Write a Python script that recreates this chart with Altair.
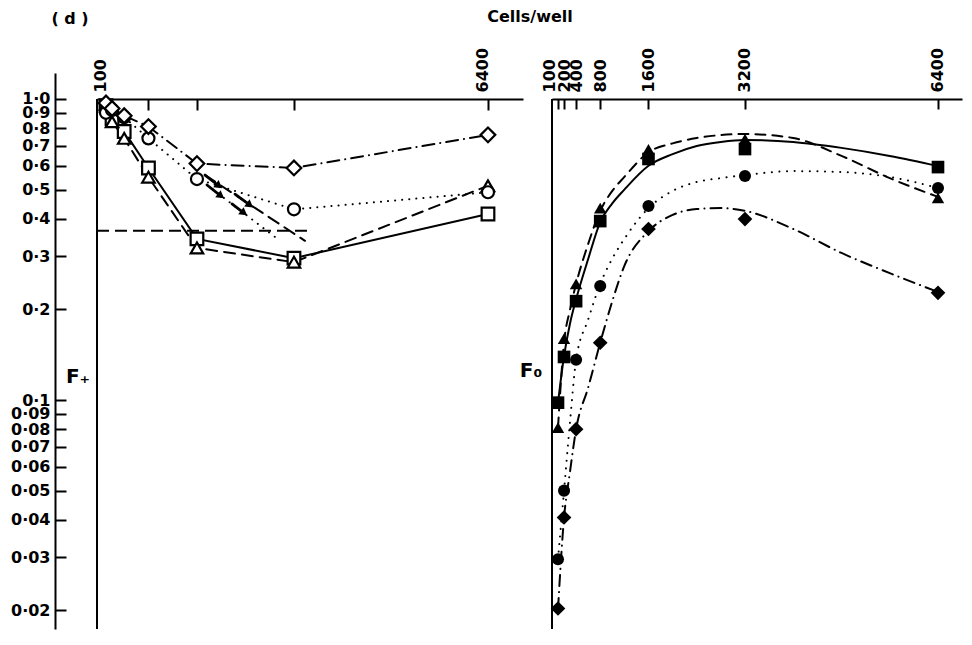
import altair as alt
import pandas as pd

# ---------------- data ----------------
cells = [100, 200, 400, 800, 1600, 3200, 6400]
series_names = ["square", "triangle", "circle", "diamond"]

# left panel: F+ (open symbols)
fplus_square = [0.95, 0.86, 0.78, 0.59, 0.343, 0.296, 0.415]
fplus_triangle = [0.96, 0.84, 0.74, 0.55, 0.32, 0.287, 0.515]
fplus_circle = [0.90, 0.92, 0.87, 0.74, 0.542, 0.43, 0.49]
fplus_diamond = [0.97, 0.93, 0.88, 0.81, 0.61, 0.59, 0.76]

# 1/e reference level
limit_level = [0.365]
limit_end_cells = [3500]

# extrapolation lines
extrap_a_cells = [1733, 3382]
extrap_a_f = [0.559, 0.338]
extrap_b_cells = [1766, 2970]
extrap_b_f = [0.518, 0.338]

# arrows
arrow_cells_from = [1733, 1766, 2228, 2178]
arrow_cells_to = [1964, 1997, 2475, 2376]
arrow_f_from = [0.559, 0.518, 0.483, 0.448]
arrow_f_to = [0.514, 0.476, 0.444, 0.418]

# right panel: F0 (filled symbols)
f0_square = [0.098, 0.139, 0.213, 0.393, 0.632, 0.682, 0.594]
f0_triangle = [0.081, 0.160, 0.243, 0.434, 0.68, 0.736, 0.469]
f0_circle = [0.0296, 0.050, 0.136, 0.239, 0.441, 0.555, 0.506]
f0_diamond = [0.0203, 0.0407, 0.080, 0.155, 0.370, 0.399, 0.227]

# hand-drawn smooth curves of the right panel
curve_cells = [100, 200, 300, 400, 600, 800, 1000, 1200, 1600, 2000, 2400, 2800, 3200, 4000, 4800, 5600, 6400]
curve_square = [0.098, 0.140, 0.180, 0.216, 0.294, 0.39, 0.45, 0.50, 0.60, 0.656, 0.698, 0.72, 0.731, 0.72, 0.688, 0.647, 0.599]
curve_triangle = [0.081, 0.155, 0.200, 0.243, 0.330, 0.425, 0.495, 0.551, 0.665, 0.712, 0.742, 0.759, 0.765, 0.742, 0.647, 0.546, 0.473]
curve_circle = [0.0296, 0.050, 0.085, 0.136, 0.185, 0.243, 0.295, 0.343, 0.434, 0.495, 0.530, 0.546, 0.559, 0.576, 0.572, 0.551, 0.506]
curve_diamond = [0.0202, 0.0406, 0.058, 0.080, 0.110, 0.155, 0.213, 0.279, 0.364, 0.412, 0.431, 0.434, 0.425, 0.370, 0.308, 0.264, 0.2285]

y_ticks = [1.0, 0.9, 0.8, 0.7, 0.6, 0.5, 0.4, 0.3, 0.2, 0.1, 0.09, 0.08, 0.07, 0.06, 0.05, 0.04, 0.03, 0.02]
y_tick_labels = ["1·0", "0·9", "0·8", "0·7", "0·6", "0·5", "0·4", "0·3", "0·2", "0·1",
                 "0·09", "0·08", "0·07", "0·06", "0·05", "0·04", "0·03", "0·02"]
left_x_ticks = [100, 800, 1600, 3200, 6400]
left_x_labelled = [100, 6400]
right_x_ticks = [100, 200, 400, 800, 1600, 3200, 6400]

# ---------------- layout ----------------
W_L, W_R, H = 426, 410, 556
GAP = 29
TOP_SHIFT = 26
Y_AXIS_OFFSET = 42
y_domain = [0.01735, 1.22]
x_left_domain = [-48.4, 6977.6]
x_right_domain = [0.5, 6798.0]
FONT = "DejaVu Sans"
LABEL_SIZE = 16

ys = alt.Scale(type="log", domain=y_domain, nice=False)
xl = alt.Scale(domain=x_left_domain, nice=False, zero=False)
xr = alt.Scale(domain=x_right_domain, nice=False, zero=False)

style = {
    "square": {"shape": "square", "size": 160},
    "triangle": {"shape": "triangle-up", "size": 155},
    "circle": {"shape": "circle", "size": 145},
    "diamond": {"shape": "diamond", "size": 215},
}
dash_L = {"square": [], "triangle": [11, 7], "circle": [0.1, 7], "diamond": [12, 6, 0.1, 6]}
dash_R = {"square": [], "triangle": [10, 7], "circle": [0.1, 7.5], "diamond": [11, 6, 0.1, 6]}


def lab_expr(vals, labs):
    return " : ".join(f"datum.value == {v} ? '{l}'" for v, l in zip(vals, labs)) + " : ''"


lab = dict(labelFont=FONT, labelFontSize=LABEL_SIZE, labelFontWeight="bold", labelColor="black",
           grid=False, labelOverlap=False, labelFlush=False)

y_label_axis = alt.Axis(orient="left", offset=Y_AXIS_OFFSET, values=y_ticks,
                        labelExpr=lab_expr(y_ticks, y_tick_labels), ticks=False, labelPadding=5,
                        domainColor="black", domainWidth=2, **lab)
y_tick_axis = alt.Axis(orient="right", offset=-(W_L + Y_AXIS_OFFSET), values=y_ticks, labels=False,
                       domain=False, tickSize=11, tickWidth=2, tickColor="black", grid=False)

x_label_axis_L = alt.Axis(orient="top", offset=-TOP_SHIFT, values=left_x_labelled, format="d",
                          labelAngle=-90, ticks=False, labelPadding=7, labelOffset=-5,
                          domainColor="black", domainWidth=2, **lab)
x_tick_axis_L = alt.Axis(orient="bottom", offset=-(H - TOP_SHIFT), values=left_x_ticks, labels=False,
                         domain=False, tickSize=11, tickWidth=2, tickColor="black", grid=False)

x_label_axis_R = alt.Axis(orient="top", offset=-TOP_SHIFT, values=right_x_ticks[1:], format="d",
                          labelAngle=-90, ticks=False, labelPadding=7,
                          domainColor="black", domainWidth=2, **lab)
x_label_axis_R100 = alt.Axis(orient="top", offset=-TOP_SHIFT, values=right_x_ticks[:1], format="d",
                             labelAngle=-90, ticks=False, labelPadding=7, labelOffset=-9,
                             domain=False, **lab)
x_tick_axis_R = alt.Axis(orient="bottom", offset=-(H - TOP_SHIFT), values=right_x_ticks, labels=False,
                         domain=False, tickSize=10, tickWidth=2, tickColor="black", grid=False)


def frame(x0):
    return pd.DataFrame({"x": [x0], "top": [1.0], "bottom": [y_domain[0]]})


# ---------------- left panel ----------------
left_series = {"square": fplus_square, "triangle": fplus_triangle,
               "circle": fplus_circle, "diamond": fplus_diamond}

layers_L = []
layers_L.append(alt.Chart(frame(x_left_domain[0])).mark_rule(color="black", strokeWidth=2).encode(
    x=alt.X("x:Q", scale=xl, axis=None),
    y=alt.Y("top:Q", scale=ys, axis=None),
    y2="bottom:Q",
))
layers_L.append(alt.Chart(pd.DataFrame({"start": [x_left_domain[0]], "end": limit_end_cells,
                                        "level": limit_level})).mark_rule(
    color="black", strokeWidth=1.8, strokeDash=[12, 6]).encode(
    x=alt.X("start:Q", scale=xl, axis=None),
    x2="end:Q",
    y=alt.Y("level:Q", scale=ys, axis=None),
))
for xs_, fs_, dash in [(extrap_a_cells, extrap_a_f, [12, 7]), (extrap_b_cells, extrap_b_f, [0.1, 7])]:
    layers_L.append(alt.Chart(pd.DataFrame({"cells": xs_, "f": fs_})).mark_line(
        color="black", strokeWidth=2, strokeCap="round", strokeDash=dash).encode(
        x=alt.X("cells:Q", scale=xl, axis=None),
        y=alt.Y("f:Q", scale=ys, axis=None),
    ))

for i, name in enumerate(series_names):
    df = pd.DataFrame({"cells": cells, "f": left_series[name]})
    kw = {"strokeDash": dash_L[name]} if dash_L[name] else {}
    layers_L.append(alt.Chart(df).mark_line(color="black", strokeWidth=2, strokeCap="round", **kw).encode(
        x=alt.X("cells:Q", scale=xl, axis=x_label_axis_L if i == 0 else None, title=None),
        y=alt.Y("f:Q", scale=ys, axis=y_label_axis if i == 0 else None, title=None),
    ))

df_arrows = pd.DataFrame({"c0": arrow_cells_from, "c1": arrow_cells_to, "f0": arrow_f_from, "f1": arrow_f_to})
layers_L.append(alt.Chart(df_arrows).mark_rule(color="black", strokeWidth=2.8, strokeCap="round").encode(
    x=alt.X("c0:Q", scale=xl, axis=None), x2="c1:Q",
    y=alt.Y("f0:Q", scale=ys, axis=None), y2="f1:Q",
))
layers_L.append(alt.Chart(df_arrows).mark_point(shape="triangle-right", angle=37, filled=True,
                                                color="black", opacity=1, size=80).encode(
    x=alt.X("c1:Q", scale=xl, axis=None),
    y=alt.Y("f1:Q", scale=ys, axis=None),
))

for i, name in enumerate(series_names):
    df = pd.DataFrame({"cells": cells, "f": left_series[name]})
    layers_L.append(alt.Chart(df).mark_point(
        shape=style[name]["shape"], size=style[name]["size"], filled=True, fill="white",
        stroke="black", strokeWidth=2.2, opacity=1).encode(
        x=alt.X("cells:Q", scale=xl, axis=x_tick_axis_L if i == 0 else None, title=None),
        y=alt.Y("f:Q", scale=ys, axis=y_tick_axis if i == 0 else None, title=None),
    ))


def label(text, x, y, size, weight="bold"):
    return alt.Chart(pd.DataFrame({"t": [text]})).mark_text(
        font=FONT, fontSize=size, fontWeight=weight, color="black", align="center", baseline="middle"
    ).encode(text="t:N", x=alt.value(x), y=alt.value(y))


layers_L.append(label("( d )", -27, -54, 16))
layers_L.append(label("Cells/well", 433, -56, 16))
layers_L.append(label("F₊", -19, 304, 20))

left = alt.layer(*layers_L).resolve_axis(x="independent", y="independent").properties(width=W_L, height=H)

# ---------------- right panel ----------------
right_points = {"square": f0_square, "triangle": f0_triangle, "circle": f0_circle, "diamond": f0_diamond}
right_curves = {"square": curve_square, "triangle": curve_triangle, "circle": curve_circle, "diamond": curve_diamond}

layers_R = []
layers_R.append(alt.Chart(frame(x_right_domain[0])).mark_rule(color="black", strokeWidth=2).encode(
    x=alt.X("x:Q", scale=xr, axis=x_label_axis_R100, title=None),
    y=alt.Y("top:Q", scale=ys, axis=None),
    y2="bottom:Q",
))
for i, name in enumerate(series_names):
    df = pd.DataFrame({"cells": curve_cells, "f": right_curves[name]})
    kw = {"strokeDash": dash_R[name]} if dash_R[name] else {}
    layers_R.append(alt.Chart(df).mark_line(color="black", strokeWidth=2, strokeCap="round",
                                            interpolate="monotone", **kw).encode(
        x=alt.X("cells:Q", scale=xr, axis=x_label_axis_R if i == 0 else None, title=None),
        y=alt.Y("f:Q", scale=ys, axis=None),
    ))
for i, name in enumerate(series_names):
    df = pd.DataFrame({"cells": cells, "f": right_points[name]})
    layers_R.append(alt.Chart(df).mark_point(
        shape=style[name]["shape"], size=style[name]["size"], filled=True, color="black", opacity=1).encode(
        x=alt.X("cells:Q", scale=xr, axis=x_tick_axis_R if i == 0 else None, title=None),
        y=alt.Y("f:Q", scale=ys, axis=None),
    ))
layers_R.append(label("F₀", -21, 298, 20))

right = alt.layer(*layers_R).resolve_axis(x="independent", y="independent").properties(width=W_R, height=H)

chart = alt.hconcat(left, right, spacing=GAP, bounds="flush").properties(
    padding={"left": 2, "top": 0, "right": 0, "bottom": 0}, background="white"
).configure_view(stroke="transparent")

chart.save("out.html", embed_options={"renderer": "svg", "actions": False})
